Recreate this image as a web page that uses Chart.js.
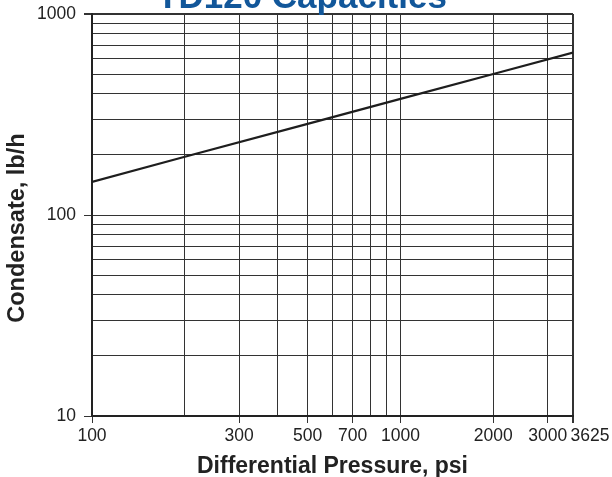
<!DOCTYPE html>
<html><head><meta charset="utf-8">
<script src="https://cdn.jsdelivr.net/npm/chart.js@4"></script>
<style>html,body{margin:0;padding:0;background:#fff}#wrap{width:612px;height:477px}</style>
</head><body><div id="wrap"><canvas id="c" width="612" height="477"></canvas></div>
<script>
const chartTitle = "TD120 Capacities";
const xTitle = "Differential Pressure, psi";
const yTitle = "Condensate, lb/h";
const pressure = [100, 200, 500, 1000, 2000, 3625];
const condensate = [146, 195, 284, 378, 503, 643];
const xGridTicks = [100,200,300,400,500,600,700,800,900,1000,2000,3000,3625];
const xTickLabels = [100,300,500,700,1000,2000,3000,3625];
const yGridTicks = [10,20,30,40,50,60,70,80,90,100,200,300,400,500,600,700,800,900,1000];
const yTickLabels = [10,100,1000];

const FONT = "'Liberation Sans', Arial, Helvetica, sans-serif";
const titlePlugin = {
  id: 'topTitle',
  afterDraw(chart) {
    const ctx = chart.ctx;
    ctx.save();
    ctx.font = "bold 35px " + FONT;
    ctx.fillStyle = '#12579a';
    ctx.textAlign = 'center';
    ctx.textBaseline = 'alphabetic';
    ctx.fillText(chartTitle, 302, 8);
    ctx.restore();
  }
};

new Chart(document.getElementById('c'), {
  type: 'scatter',
  data: { datasets: [{
    data: pressure.map((p, i) => ({x: p, y: condensate[i]})),
    showLine: true, borderColor: '#1e1e1e', borderWidth: 2.2, pointRadius: 0, fill: false
  }]},
  options: {
    responsive: false, animation: false,
    layout: { padding: { top: 14, right: 39, bottom: 0, left: 0 } },
    plugins: { legend: { display: false }, tooltip: { enabled: false } },
    scales: {
      x: {
        type: 'logarithmic', min: 100, max: 3625,
        afterBuildTicks: s => { s.ticks = xGridTicks.map(v => ({value: v})); },
        afterFit: s => { s.height = 61; s.paddingLeft = 0; s.paddingRight = 0; },
        border: { color: '#222', width: 2 },
        grid: {
          color: '#333',
          lineWidth: c => (c.tick && c.tick.value === 3625) ? 2 : 1,
          tickLength: 7,
          tickColor: c => (c.tick && xTickLabels.includes(c.tick.value)) ? '#333' : 'rgba(0,0,0,0)'
        },
        ticks: {
          autoSkip: false, maxRotation: 0, padding: 3, color: '#222',
          font: { family: FONT, size: 17.5 },
          callback: v => xTickLabels.includes(v) ? (v === 3625 ? '       ' + v : String(v)) : ''
        },
        title: { display: true, text: xTitle, color: '#222', padding: {top: 0, bottom: -1},
          font: { family: FONT, size: 23, weight: 'bold', lineHeight: 1 } }
      },
      y: {
        type: 'logarithmic', min: 10, max: 1000,
        afterBuildTicks: s => { s.ticks = yGridTicks.map(v => ({value: v})); },
        afterFit: s => { s.width = 92; s.paddingTop = 0; s.paddingBottom = 0; },
        border: { color: '#222', width: 2 },
        grid: {
          color: '#333',
          lineWidth: c => (c.tick && c.tick.value === 1000) ? 2 : 1,
          tickLength: 8,
          tickColor: c => (c.tick && yTickLabels.includes(c.tick.value)) ? '#333' : 'rgba(0,0,0,0)'
        },
        ticks: {
          autoSkip: false, padding: 8, color: '#222',
          font: { family: FONT, size: 17.5 },
          callback: v => yTickLabels.includes(v) ? String(v) : ''
        },
        title: { display: true, text: yTitle + '    ', color: '#222', padding: {top: 3, bottom: 0},
          font: { family: FONT, size: 23.5, weight: 'bold' } }
      }
    }
  },
  plugins: [titlePlugin]
});
</script></body></html>
